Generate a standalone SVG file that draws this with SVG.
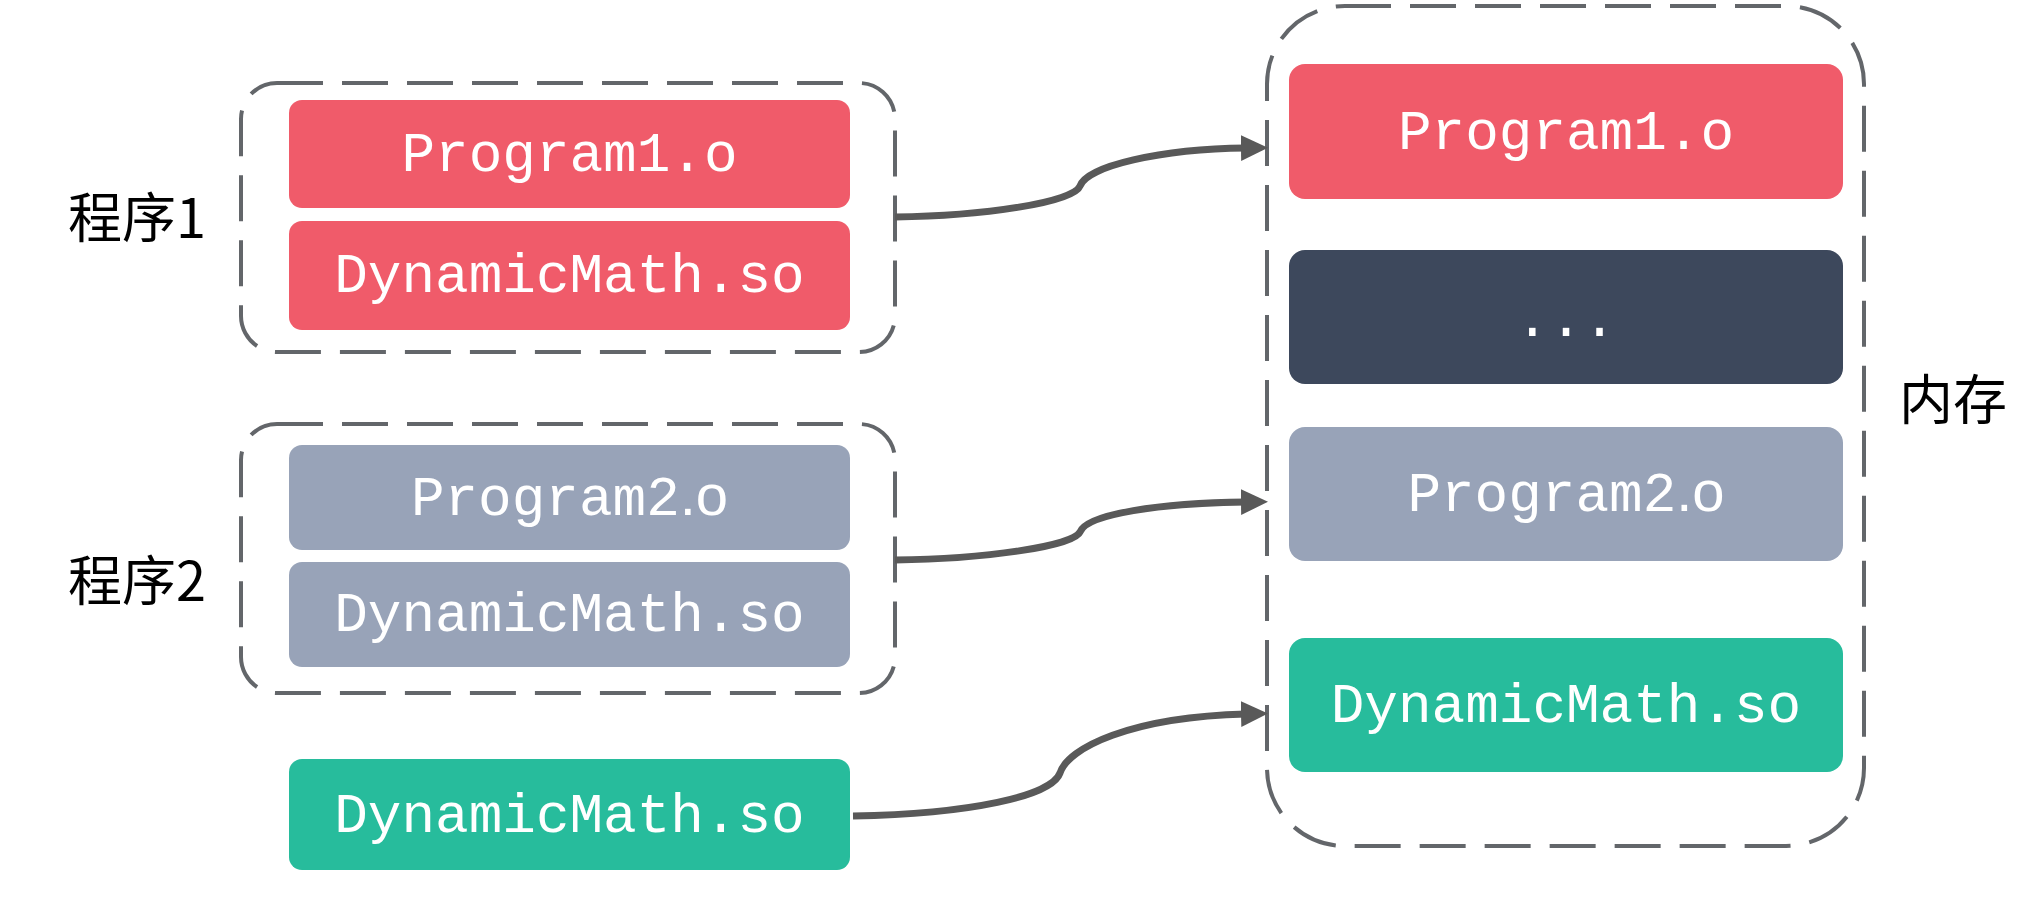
<svg xmlns="http://www.w3.org/2000/svg" width="2042" height="902" viewBox="0 0 2042 902">
  <style>
    .frame { fill: none; stroke: #63666A; stroke-width: 4; stroke-dasharray: 46 19; }
    .blk { stroke: none; }
    .red { fill: #F05B6A; }
    .slate { fill: #98A3B8; }
    .dark { fill: #3D485C; }
    .green { fill: #27BC9C; }
    .code { font-family: "Liberation Mono", "Courier New", monospace; font-size: 56px; fill: #FFFFFF; text-anchor: middle; }
    .tail { font-family: "Liberation Sans", Arial, sans-serif; font-size: 58px; }
    .cap { font-family: "Noto Sans CJK SC", "Noto Sans", sans-serif; font-size: 54px; fill: #000000; }
    .link { fill: none; stroke: #595959; stroke-width: 7; }
  </style>
  <defs>
    <marker id="arrow" markerUnits="userSpaceOnUse" markerWidth="30" markerHeight="30" refX="5" refY="13" orient="auto">
      <path d="M0,0 L27,13 L0,26 Z" fill="#595959"/>
    </marker>
  </defs>

  <rect width="2042" height="902" fill="#FFFFFF"/>

  <!-- program 1 -->
  <g id="program1">
    <rect class="frame" x="241" y="83" width="654" height="269" rx="36"/>
    <text class="cap" x="68" y="238">程序1</text>
    <g id="p1-obj">
      <rect class="blk red" x="289" y="100" width="561" height="108" rx="13"/>
      <text class="code" x="569.5" y="171">Program1.o</text>
    </g>
    <g id="p1-lib">
      <rect class="blk red" x="289" y="221" width="561" height="109" rx="13"/>
      <text class="code" x="569.5" y="292">DynamicMath.so</text>
    </g>
  </g>

  <!-- program 2 -->
  <g id="program2">
    <rect class="frame" x="241" y="424" width="654" height="269" rx="36"/>
    <text class="cap" x="68" y="601">程序2</text>
    <g id="p2-obj">
      <rect class="blk slate" x="289" y="445" width="561" height="105" rx="13"/>
      <text class="code" x="569.5" y="515">Program2<tspan class="tail">.o</tspan></text>
    </g>
    <g id="p2-lib">
      <rect class="blk slate" x="289" y="562" width="561" height="105" rx="13"/>
      <text class="code" x="569.5" y="631">DynamicMath.so</text>
    </g>
  </g>

  <!-- shared library on its own -->
  <g id="shared-lib">
    <rect class="blk green" x="289" y="759" width="561" height="111" rx="13"/>
    <text class="code" x="569.5" y="832">DynamicMath.so</text>
  </g>

  <!-- memory -->
  <g id="memory">
    <rect class="frame" x="1267" y="6" width="597" height="840" rx="78"/>
    <text class="cap" x="1899" y="420">内存</text>
    <g id="mem-p1">
      <rect class="blk red" x="1289" y="64" width="554" height="135" rx="16"/>
      <text class="code" x="1566" y="149">Program1.o</text>
    </g>
    <g id="mem-other">
      <rect class="blk dark" x="1289" y="250" width="554" height="134" rx="16"/>
      <text class="code" x="1566" y="336">...</text>
    </g>
    <g id="mem-p2">
      <rect class="blk slate" x="1289" y="427" width="554" height="134" rx="16"/>
      <text class="code" x="1566" y="511">Program2<tspan class="tail">.o</tspan></text>
    </g>
    <g id="mem-lib">
      <rect class="blk green" x="1289" y="638" width="554" height="134" rx="16"/>
      <text class="code" x="1566" y="722">DynamicMath.so</text>
    </g>
  </g>

  <!-- connectors -->
  <g id="connectors">
    <path class="link" marker-end="url(#arrow)" d="M895,217 C985,216 1074,202 1080,186 C1087,166 1160,149 1246,148"/>
    <path class="link" marker-end="url(#arrow)" d="M895,560 C985,559 1074,546 1080,532 C1087,514 1160,503 1246,502"/>
    <path class="link" marker-end="url(#arrow)" d="M853,816 C970,814 1052,796 1060,773 C1068,748 1130,717 1246,714"/>
  </g>
</svg>
